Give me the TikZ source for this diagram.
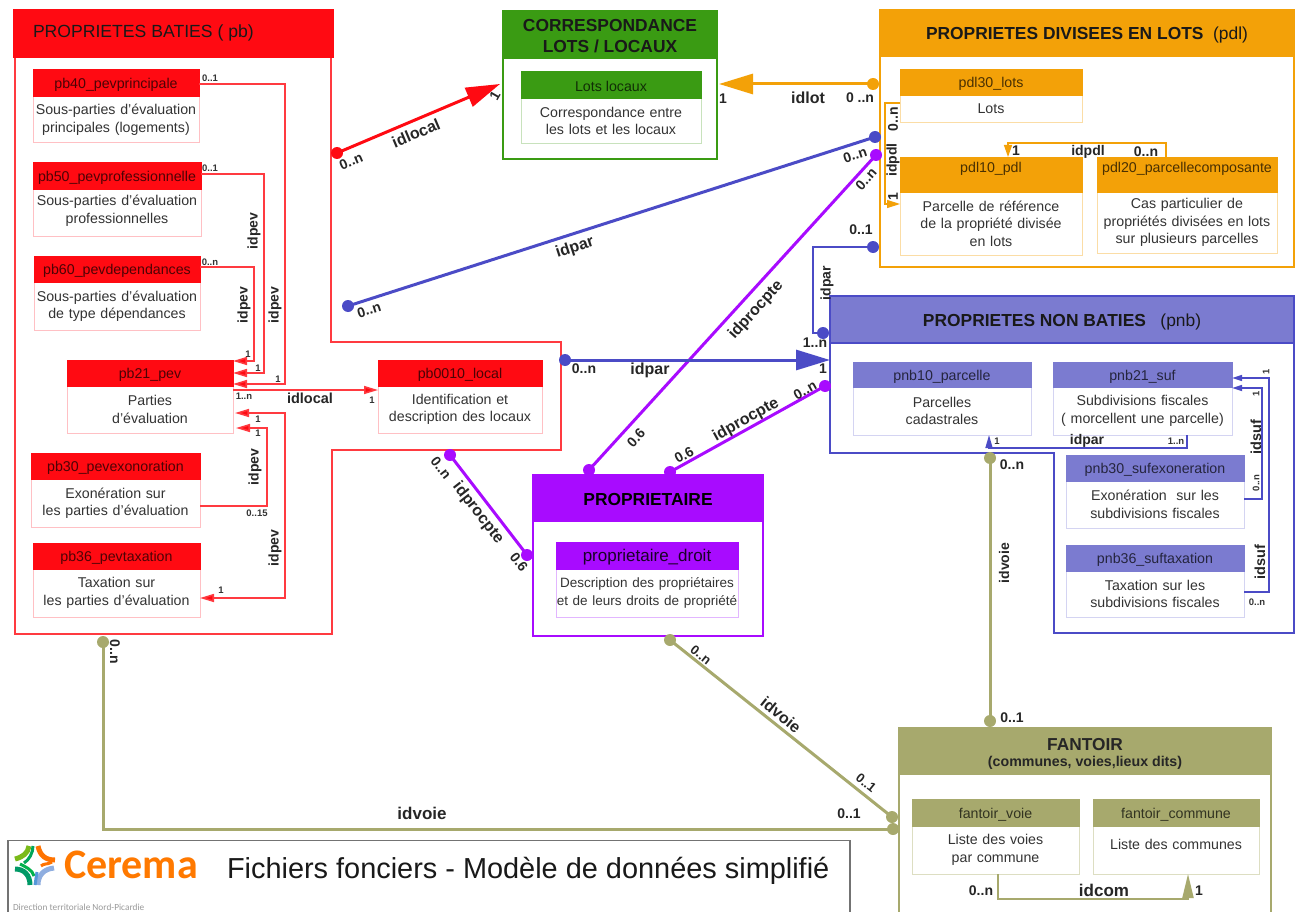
\documentclass[tikz,border=0pt]{standalone}
\usepackage{fontspec}
\setmainfont{Liberation Sans}
\newfontfamily\logofont{Carlito}
\usetikzlibrary{arrows.meta,calc}
\definecolor{cred}{HTML}{FF0A12}
\definecolor{credl}{HTML}{FF3A40}
\definecolor{credp}{HTML}{FFC0C4}
\definecolor{cgreen}{HTML}{3A9B13}
\definecolor{cgreenp}{HTML}{C8E2BC}
\definecolor{corange}{HTML}{F3A108}
\definecolor{corangep}{HTML}{FBDDA6}
\definecolor{cblue}{HTML}{7B7BD0}
\definecolor{cbluel}{HTML}{4B4BC6}
\definecolor{cbluep}{HTML}{D4D4F2}
\definecolor{cpurple}{HTML}{A80BFF}
\definecolor{cpurplep}{HTML}{E2B6FF}
\definecolor{ckhaki}{HTML}{A7A96D}
\definecolor{ckhakip}{HTML}{DDDEC2}
\definecolor{ctext}{HTML}{333333}
\tikzset{
  every node/.style={inner sep=0pt,outer sep=0pt},
  headbox/.style={anchor=north west,align=center},
  bodybox/.style={anchor=north west,fill=white,align=center,text=ctext,font=\fontsize{14.2}{17.5}\selectfont},
  tname/.style={font=\fontsize{14.2}{16}\selectfont,align=center},
  ptitle/.style={font=\fontsize{17.4}{21}\selectfont,text=black!90,align=center,yshift=-2pt},
  lab/.style={font=\fontsize{16}{18}\bfseries\selectfont,text=black!85},
  labs/.style={font=\fontsize{9.5}{11}\bfseries\selectfont,text=black!80},
  labm/.style={font=\fontsize{14}{16}\bfseries\selectfont,text=black!85},
  dot/.style={circle,fill=#1,minimum size=12pt},
  link/.style={draw=#1,line width=1.6pt,line join=miter},
  big/.style={draw=#1,line width=3pt},
  thin tip/.style={-{Triangle[length=14pt,width=8pt,fill=#1]}},
  big tip/.style={-{Triangle[length=34pt,width=20pt,fill=#1]}},
  panel/.style={draw=#1,fill=white,line width=2pt,line join=miter},
}
\def\tshift{-2}
% id x1 y1 x2 ymid y2 headcolour bordercolour titlecolour title body
\newcommand{\tbox}[9]{%
  \def\tid{#1}\def\txa{#2}\def\tya{#3}\def\txb{#4}\def\tym{#5}\def\tyb{#6}\def\thc{#7}\def\tbc{#8}\def\ttc{#9}\tboxrest}
\newcommand{\tboxrest}[2]{%
  \pgfmathsetmacro{\tw}{\txb-\txa}\pgfmathsetmacro{\thh}{\tym-\tya}\pgfmathsetmacro{\tbh}{\tyb-\tym}%
  \node[bodybox,draw=\tbc,line width=1pt,minimum width=\tw pt,minimum height=\tbh pt,text width=\tw pt] (\tid) at (\txa,\tym) {#2};%
  \node[headbox,fill=\thc,draw=\thc,line width=.6pt,minimum width=\tw pt,minimum height=\thh pt] (\tid h) at (\txa,\tya) {};%
  \node[tname,text=\ttc,yshift=\tshift pt] (\tid t) at (\tid h.center) {#1};%
}
\begin{document}
\begin{tikzpicture}[x=1pt,y=-1pt]
\useasboundingbox (0,0) rectangle (1300,912);
% ---------- panels
\draw[panel=credl] (14.5,50) -- (14.5,634) -- (332,634) -- (332,450) -- (561,450) -- (561,342) -- (331,342) -- (331,50) -- cycle;
\node[headbox,fill=cred,draw=cred,line width=1pt,minimum width=320pt,minimum height=48pt] (pbh) at (13,10) {};
\node[anchor=west,font=\fontsize{17.6}{20}\selectfont,text=black!90] (pbt) at (33,33) {PROPRIETES BATIES ( pb)};

\draw[panel=cgreen] (503,30) rectangle (717,159);
\node[headbox,fill=cgreen,draw=cgreen,line width=2pt,minimum width=214pt,minimum height=47pt] (grh) at (503,11) {};
\node[ptitle,font=\fontsize{17.4}{21}\bfseries\selectfont] (grt) at (grh.center) {CORRESPONDANCE\\LOTS / LOCAUX};

\draw[panel=corange] (880,30) rectangle (1294,267);
\node[headbox,fill=corange,draw=corange,line width=2pt,minimum width=414pt,minimum height=46pt] (pdlh) at (880,10) {};
\node[ptitle] (pdlt) at (pdlh.center) {\bfseries PROPRIETES DIVISEES EN LOTS\ \ \mdseries (pdl)};

\draw[panel=cbluel] (830,320) -- (830,453) -- (1054,453) -- (1054,633) -- (1294,633) -- (1294,320) -- cycle;
\node[headbox,fill=cblue,draw=cbluel,line width=2pt,minimum width=464pt,minimum height=47pt] (pnbh) at (830,296) {};
\node[ptitle] (pnbt) at (pnbh.center) {\bfseries PROPRIETES NON BATIES\ \ \ \mdseries (pnb)};

\draw[panel=cpurple] (533,500) rectangle (763,636);
\node[headbox,fill=cpurple,draw=cpurple,line width=2pt,minimum width=230pt,minimum height=46pt] (proh) at (533,475) {};
\node[ptitle,font=\fontsize{17.4}{21}\bfseries\selectfont,text=black] (prot) at (proh.center) {PROPRIETAIRE};

\draw[panel=ckhaki] (899,750) -- (899,915) -- (1271,915) -- (1271,750) -- cycle;
\node[headbox,fill=ckhaki,draw=ckhaki,line width=2pt,minimum width=372pt,minimum height=46pt] (fanh) at (899,728) {};
\node[font=\fontsize{17.3}{19}\bfseries\selectfont,text=black!85] (fant) at (1085,745) {FANTOIR};
\node[font=\fontsize{14.2}{16}\bfseries\selectfont,text=black!85] (fans) at (1085,763) {(communes, voies,lieux dits)};

% ---------- tables
\def\rt{black!70!cred}
\tbox{pb40}{33}{69}{199}{96}{143}{cred}{credp}{\rt}{pb40\_pevprincipale}{Sous-parties d'évaluation\\principales (logements)}
\tbox{pb50}{33}{162}{201}{189}{236}{cred}{credp}{\rt}{pb50\_pevprofessionnelle}{Sous-parties d'évaluation\\professionnelles\\[-11pt]\mbox{}}
\tbox{pb60}{34}{256}{200}{282}{330}{cred}{credp}{\rt}{pb60\_pevdependances}{Sous-parties d'évaluation\\de type dépendances}
\tbox{pb21}{67}{360}{233}{386}{433}{cred}{credp}{\rt}{pb21\_pev}{Parties\\d'évaluation}
\tbox{pb0010}{378}{360}{542}{386}{433}{cred}{credp}{\rt}{pb0010\_local}{Identification et\\description des locaux}
\tbox{pb30}{31}{453}{200}{479}{527}{cred}{credp}{\rt}{pb30\_pevexonoration}{Exonération sur\\les parties d'évaluation}
\tbox{pb36}{33}{543}{200}{569}{617}{cred}{credp}{\rt}{pb36\_pevtaxation}{Taxation sur\\les parties d'évaluation}
\def\gt{black!70!cgreen}
\tbox{ll}{521}{71}{701}{98}{144}{cgreen}{cgreenp}{\gt}{Lots locaux}{Correspondance entre\\les lots et les locaux}
\def\ot{black!70!corange}
\tbox{pdl30}{900}{69}{1082}{95}{123}{corange}{corangep}{\ot}{pdl30\_lots}{Lots}
\def\tshift{5.5}
\tbox{pdl10}{900}{157}{1082}{192}{255}{corange}{corangep}{\ot}{pdl10\_pdl}{Parcelle de référence\\de la propriété divisée\\en lots}
\tbox{pdl20}{1097}{157}{1277}{192}{253}{corange}{corangep}{\ot}{pdl20\_parcellecomposante}{Cas particulier de\\propriétés divisées en lots\\sur plusieurs parcelles}
\def\tshift{-2}
\def\bt{black!70!cblue}
\tbox{pnb10}{853}{362}{1031}{387}{435}{cblue}{cbluep}{\bt}{pnb10\_parcelle}{Parcelles\\cadastrales}
\tbox{pnb21}{1053}{362}{1232}{387}{435}{cblue}{cbluep}{\bt}{pnb21\_suf}{Subdivisions fiscales\\( morcellent une parcelle)}
\tbox{pnb30}{1066}{455}{1244}{481}{528}{cblue}{cbluep}{\bt}{pnb30\_sufexoneration}{Exonération\ \ sur les\\subdivisions fiscales}
\tbox{pnb36}{1066}{545}{1244}{571}{617}{cblue}{cbluep}{\bt}{pnb36\_suftaxation}{Taxation sur les\\subdivisions fiscales}
\def\pt{black!85!cpurple}
\tbox{prod}{556}{542}{738}{569}{617}{cpurple}{cpurplep}{\pt}{{\fontsize{17}{18}\selectfont proprietaire\_droit}}{{\fontsize{13.5}{16.5}\selectfont Description des propriétaires\\et de leurs droits de propriété}}
\def\kt{black!70!ckhaki}
\tbox{fv}{912}{799}{1079}{826}{874}{ckhaki}{ckhakip}{\kt}{fantoir\_voie}{Liste des voies\\par commune}
\tbox{fc}{1093}{799}{1259}{826}{874}{ckhaki}{ckhakip}{\kt}{fantoir\_commune}{Liste des communes\\[-7pt]\mbox{}}

% ---------- end dots
\node[dot=cred] (dloc) at (337,153) {};
\node[dot=corange] (dlot) at (873,84) {};
\node[dot=cbluel] (dparA) at (348,306) {};
\node[dot=cbluel] (dparB) at (875,137) {};
\node[dot=cpurple] (dprA) at (876,155) {};
\node[dot=cpurple] (dprB) at (589,470) {};
\node[dot=cbluel] (dparC) at (873,247) {};
\node[dot=cbluel] (dparD) at (823,333) {};
\node[dot=cbluel] (dparE) at (565,360) {};
\node[dot=cpurple] (dprC) at (825,386) {};
\node[dot=cpurple] (dprD) at (670,472) {};
\node[dot=cpurple] (dprE) at (450,455) {};
\node[dot=cpurple] (dprF) at (527,555) {};
\node[dot=ckhaki] (dvA) at (670,640) {};
\node[dot=ckhaki] (dvB) at (892,817) {};
\node[dot=ckhaki] (dvC) at (103,642) {};
\node[dot=ckhaki] (dvD) at (893,829) {};
\node[dot=ckhaki] (dvE) at (990,458) {};
\node[dot=ckhaki] (dvF) at (990,721) {};

% ---------- big connectors
\coordinate (grw) at (500,84);
\draw[big=cred,big tip=cred] (dloc.center) -- (grw);
\coordinate (gre) at (719,84);
\draw[big=corange,big tip=corange] (dlot.center) -- (gre);
\draw[big=cbluel] (dparA.center) -- (dparB.center);
\draw[big=cpurple] (dprA.center) -- (dprB.center);
\coordinate (pnbw) at (830,360);
\draw[big=cbluel,big tip=cbluel] (dparE.center) -- (pnbw);
\draw[big=cpurple] (dprC.center) -- (dprD.center);
\draw[big=cpurple] (dprE.center) -- (dprF.center);
\draw[big=ckhaki] (dvA.center) -- (dvB.center);
\draw[big=ckhaki] (dvC.center) |- (dvD.center);
\draw[big=ckhaki] (dvE.center) -- (dvF.center);
\draw[draw=cbluel,line width=2pt] (dparC.center) -- (813,247) -- (813,333) -- (dparD.center);

% ---------- red links
\draw[link=credl,thin tip=cred] (pb40h.east |- 0,84) -- (285,84) -- (285,384) -- (pb21h.east |- 0,384);
\draw[link=credl,thin tip=cred] (pb50h.east |- 0,174) -- (264,174) -- (264,373) -- (pb21h.east |- 0,373);
\draw[link=credl,thin tip=cred] (pb60h.east |- 0,267) -- (254,267) -- (254,361) -- (pb21h.east |- 0,361);
\draw[link=credl,thin tip=cred] (pb21.east |- 0,390) -- (pb0010.west |- 0,390);
\draw[link=credl,thin tip=cred] (pb30.east |- 0,506) -- (267,506) -- (267,428) -- ([xshift=3pt]pb21.east |- 0,428);
\draw[link=credl,{Triangle[length=14pt,width=8pt,fill=cred]}-{Triangle[length=14pt,width=8pt,fill=cred]}] (pb36.east |- 0,598) -- (285,598) -- (285,413) -- ([xshift=2pt]pb21.east |- 0,413);
% ---------- orange links
\draw[draw=corange,line width=1.4pt,-{Triangle[length=13pt,width=8pt,fill=corange]}] (pdl30.west |- 0,103) -- (885,103) -- (885,204) -- (pdl10.west |- 0,204);
\draw[draw=corange,line width=1.4pt,-{Triangle[length=12pt,width=8pt,fill=corange]}] (1166,0 |- pdl20h.north) -- (1166,143) -- (1008,143) -- (1008,0 |- pdl10h.north);
% ---------- blue links
\draw[link=cbluel,-{Triangle[length=13pt,width=7pt,fill=cbluel]}] (1187,0 |- pnb21.south) -- (1187,448) -- (989,448) -- (989,0 |- pnb10.south);
\draw[link=cbluel,-{Triangle[length=10pt,width=6pt,fill=cbluel]}] (pnb30.east |- 0,499) -- (1262,499) -- (1262,388) -- (pnb21h.east |- 0,388);
\draw[link=cbluel,-{Triangle[length=10pt,width=6pt,fill=cbluel]}] (pnb36.east |- 0,592) -- (1269,592) -- (1269,378) -- (pnb21h.east |- 0,378);
% ---------- khaki link
\draw[draw=ckhaki,line width=2pt,-{Triangle[length=24pt,width=11pt,fill=ckhaki]}] (998,0 |- fv.south) -- (998,899) -- (1188,899) -- (1188,0 |- fc.south);

% ---------- labels: red
\node[labs] (l1) at (210,78) {0..1};
\node[labs] (l2) at (278,379) {1};
\node[labs] (l3) at (210,168) {0..1};
\node[labs] (l4) at (258,368) {1};
\node[labs] (l5) at (210,262) {0..n};
\node[labs] (l6) at (248,354) {1};
\node[labs] (l7) at (244,396) {1..n};
\node[labm,font=\fontsize{14.5}{16}\bfseries\selectfont] (l8) at (310,398) {idlocal};
\node[labs] (l9) at (372,400) {1};
\node[labs] (l10) at (257,513) {0..15};
\node[labs] (l11) at (258,433) {1};
\node[labs] (l12) at (258,419) {1};
\node[labs] (l13) at (221,590) {1};
\node[labm,rotate=90] (l14) at (254,231) {idpev};
\node[labm,rotate=90] (l15) at (244,305) {idpev};
\node[labm,rotate=90] (l16) at (275,305) {idpev};
\node[labm,rotate=90] (l17) at (255,467) {idpev};
\node[labm,rotate=90] (l18) at (275,548) {idpev};
% big red
\node[labm,rotate=23] (l19) at (351,161) {0..n};
\node[lab,rotate=23] (l20) at (416,133) {idlocal};
\node[labm,rotate=60] (l21) at (495,96) {1};
% orange
\node[labm] (l22) at (723,99) {1};
\node[lab] (l23) at (808,98) {idlot};
\node[labm] (l24) at (860,98) {0 ..n};
\node[labm,rotate=90] (l25) at (893,119) {0..n};
\node[labm,rotate=90] (l26) at (893,160) {idpdl};
\node[labm,rotate=90] (l27) at (893,197) {1};
\node[labm] (l28) at (1016,151) {1};
\node[labm] (l29) at (1088,152) {idpdl};
\node[labm] (l30) at (1146,152) {0..n};
% blue
\node[labm,rotate=18] (l31) at (369,310) {0..n};
\node[lab,rotate=18] (l32) at (575,248) {idpar};
\node[labm,rotate=18] (l33) at (855,155) {0..n};
\node[labm] (l34) at (861,230) {0..1};
\node[labm,rotate=90] (l35) at (827,283) {idpar};
\node[labm] (l36) at (815,343) {1..n};
\node[labm] (l37) at (584,369) {0..n};
\node[lab] (l38) at (650,370) {idpar};
\node[labm] (l39) at (823,369) {1};
\node[labs] (l40) at (997,441) {1};
\node[labm] (l41) at (1087,441) {idpar};
\node[labs] (l42) at (1176,441) {1..n};
\node[labs,rotate=90] (l43) at (1266,372) {1};
\node[labs,rotate=90] (l44) at (1256,394) {1};
\node[labm,font=\fontsize{14.5}{16}\bfseries\selectfont,rotate=90] (l45) at (1256,437) {idsuf};
\node[labs,rotate=90] (l46) at (1256,483) {0..n};
\node[labm,font=\fontsize{14.5}{16}\bfseries\selectfont,rotate=90] (l47) at (1260,562) {idsuf};
\node[labs] (l48) at (1257,602) {0..n};
% purple
\node[labm,rotate=48] (l49) at (866,179) {0..n};
\node[lab,rotate=48] (l50) at (756,310) {idprocpte};
\node[labm,rotate=48] (l51) at (636,438) {0.6};
\node[labm,rotate=29] (l52) at (805,390) {0..n};
\node[lab,rotate=29] (l53) at (746,420) {idprocpte};
\node[labm,rotate=29] (l54) at (684,455) {0.6};
\node[labm,rotate=-52] (l55) at (441,468) {0..n};
\node[lab,rotate=-52] (l56) at (478,513) {idprocpte};
\node[labm,rotate=-52] (l57) at (519,562) {0.6};
% khaki
\node[labm,font=\fontsize{13}{15}\bfseries\selectfont,rotate=-39] (l58) at (701,655) {0..n};
\node[lab,rotate=-39] (l59) at (781,715) {idvoie};
\node[labm,font=\fontsize{13}{15}\bfseries\selectfont,rotate=-39] (l60) at (866,783) {0..1};
\node[labm,rotate=-90] (l61) at (115,652) {0..n};
\node[lab,font=\fontsize{17}{19}\bfseries\selectfont] (l62) at (422,813) {idvoie};
\node[labm] (l63) at (849,814) {0..1};
\node[labm] (l64) at (1012,465) {0..n};
\node[labm,rotate=90] (l65) at (1004,563) {idvoie};
\node[labm] (l66) at (1012,718) {0..1};
\node[labm] (l67) at (981,891) {0..n};
\node[lab,font=\fontsize{17}{19}\bfseries\selectfont] (l68) at (1104,890) {idcom};
\node[labm] (l69) at (1199,891) {1};

% ---------- title block
\draw[draw=black!55,line width=1.5pt,fill=white] (8,915) -- (8,840.5) -- (850,840.5) -- (850,915);
\draw[line width=5pt,color=green!40!yellow!70!black!90,line cap=butt] (15,859) .. controls (23,857) and (28,853) .. (29,846);
\draw[line width=3pt,color=teal!70!green] (33,846) .. controls (33,853) and (29,860) .. (24,863);
\draw[line width=5pt,color=orange!90!red] (38,846) .. controls (40,856) and (46,860) .. (55,860);
\draw[line width=3pt,color=orange!90!red] (41,866) .. controls (44,863) and (47,865) .. (52,862);
\draw[line width=5pt,color=teal!80!green] (15,869) .. controls (24,869) and (30,875) .. (30,885);
\draw[line width=3pt,color=teal!60!green] (20,864) .. controls (24,866) and (33,870) .. (34,876);
\draw[line width=5pt,color=cyan!50!blue!45!white] (38,885) .. controls (38,875) and (44,869) .. (54,868);
\draw[line width=3pt,color=cyan!60!blue!70!white] (35,885) -- (37,872);
\node[anchor=west,font=\fontsize{42}{44}\bfseries\selectfont\logofont,text=orange!95!red] (cer) at (64,865) {Cerema};
\node[anchor=west,font=\fontsize{28.9}{32}\selectfont,text=black!90] (ttl) at (227,871) {Fichiers fonciers - Modèle de données simplifié};
\node[anchor=west,font=\fontsize{9.3}{10}\selectfont\logofont,text=black!40] (dir) at (13,907) {Direction territoriale Nord-Picardie};
\end{tikzpicture}
\end{document}
